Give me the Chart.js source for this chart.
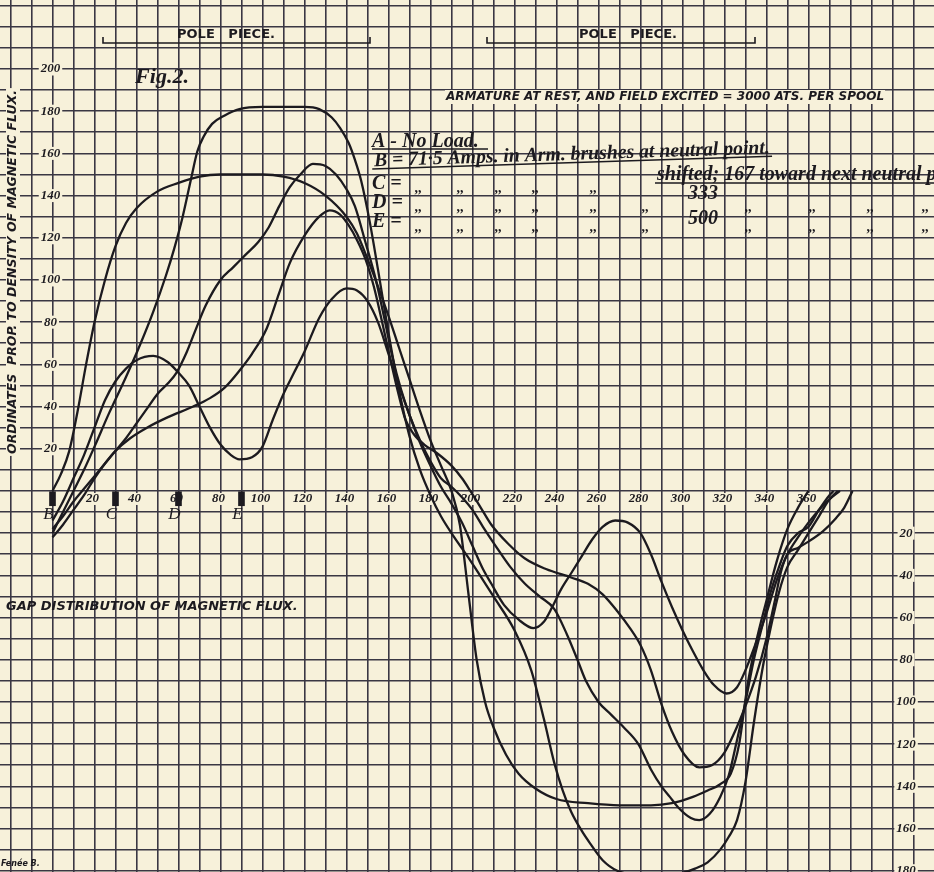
<!DOCTYPE html>
<html>
<head>
<meta charset="utf-8">
<title>Gap distribution of magnetic flux</title>
<script src="https://cdn.jsdelivr.net/npm/chart.js@4.4.1/dist/chart.umd.min.js"></script>
<style>
  html, body { margin: 0; padding: 0; background: #f7f1da; }
  #wrap { position: relative; width: 934px; height: 872px; }
</style>
</head>
<body>
<div id="wrap"><canvas id="chart"></canvas></div>
<script>
// ========================================
// Data (degrees of armature periphery vs. flux density ordinate)
// ========================================

// A - No load
const xA = [0, 4, 8, 12, 16, 20, 25, 30, 35, 40, 50, 60, 70, 80, 90, 100, 110, 120, 130, 140, 145, 150, 155, 160, 165, 170, 175, 180, 185, 190, 194, 198, 202, 206, 210, 216, 222, 230, 240, 255, 270, 285, 295, 305, 312, 318, 323, 327, 331, 335, 340, 345, 350, 355, 360];
const yA = [0, 8, 19, 38, 60, 80, 100, 116, 127, 134, 142, 146, 149, 150, 150, 150, 149, 146, 140, 130, 122, 110, 97, 83, 68, 53, 38, 24, 12, 0, -16, -48, -80, -100, -112, -125, -134, -141, -146, -148, -149, -149, -148, -145, -142, -139, -134, -120, -92, -72, -52, -33, -18, -8, 0];

// B - 71.5 amps, brushes at neutral point
const xB = [0, 5, 10, 15, 20, 27, 35, 42, 48, 54, 58, 62, 66, 69, 72, 76, 82, 89, 100, 110, 120, 127, 133, 137, 141, 144, 147, 151, 155, 160, 165, 170, 175, 180, 185, 190, 199, 210, 220, 228, 234, 239, 243, 247, 252, 256, 262, 269, 280, 290, 300, 306, 312, 318, 322, 326, 330, 334, 338, 342, 346, 350, 355, 360, 365, 370, 374];
const yB = [-20, -10, 0, 10, 21, 37, 54, 70, 85, 102, 115, 130, 148, 161, 168, 174, 178, 181, 182, 182, 182, 181, 177, 172, 165, 157, 147, 128, 105, 75, 48, 26, 10, -2, -12, -20, -33, -50, -66, -85, -108, -129, -142, -152, -161, -167, -175, -180, -182, -182, -181, -179, -176, -170, -164, -156, -138, -110, -85, -65, -48, -36, -28, -20, -12, -4, 0];

// C - brushes shifted .167
const xC = [0, 5, 10, 15, 20, 25, 30, 35, 40, 45, 50, 55, 59, 64, 68, 73, 80, 86, 92, 98, 103, 108, 113, 118, 124, 130, 135, 140, 144, 149, 154, 158, 162, 166, 170, 175, 180, 185, 190, 195, 200, 205, 211, 218, 225, 232, 239, 245, 250, 254, 260, 266, 272, 279, 285, 290, 294, 298, 304, 308, 313, 318, 322, 326, 330, 334, 338, 342, 346, 350, 355, 360, 365, 370, 372];
const yC = [-18, -12, -5, 1, 7, 13, 19, 25, 32, 39, 46, 51, 56, 66, 76, 88, 100, 106, 112, 118, 125, 135, 144, 150, 155, 154, 150, 143, 135, 118, 100, 82, 63, 48, 36, 24, 14, 6, 2, -3, -9, -17, -26, -36, -44, -50, -56, -68, -80, -90, -100, -106, -112, -120, -132, -140, -145, -150, -155, -156, -153, -145, -135, -118, -100, -80, -64, -48, -36, -26, -20, -17, -9, -2, 0];

// D - brushes shifted .333
const xD = [0, 5, 10, 15, 20, 25, 30, 37, 45, 55, 67, 75, 82, 89, 95, 102, 108, 113, 120, 127, 132, 137, 141, 145, 149, 153, 157, 161, 165, 168, 172, 177, 183, 190, 195, 199, 204, 209, 217, 225, 235, 247, 255, 262, 269, 275, 280, 285, 290, 295, 301, 308, 314, 320, 325, 330, 335, 340, 344, 347, 350, 355, 360, 367, 373, 377, 381];
const yD = [-22, -16, -9, -2, 6, 13, 19, 25, 30, 35, 40, 44, 49, 57, 65, 77, 94, 108, 121, 130, 133, 131, 126, 119, 110, 97, 80, 62, 45, 34, 27, 22, 18, 12, 6, 0, -8, -16, -25, -32, -37, -41, -44, -49, -57, -65, -73, -85, -101, -114, -125, -131, -130, -124, -114, -102, -88, -70, -52, -38, -30, -27, -24, -19, -13, -8, 0];

// E - brushes shifted .500
const xE = [0, 5, 10, 15, 20, 25, 30, 35, 40, 48, 55, 60, 65, 70, 75, 80, 85, 89, 95, 100, 105, 110, 115, 120, 127, 133, 140, 145, 150, 155, 160, 165, 170, 175, 180, 185, 190, 195, 200, 205, 209, 215, 222, 229, 234, 238, 242, 247, 252, 257, 262, 268, 274, 280, 285, 290, 295, 300, 305, 310, 315, 321, 326, 330, 335, 340, 345, 350, 355, 360, 365, 370, 375];
const yE = [-14, -5, 6, 17, 30, 43, 52, 58, 62, 64, 61, 56, 50, 40, 30, 22, 17, 15, 16, 21, 34, 46, 56, 66, 82, 91, 96, 95, 90, 80, 65, 50, 36, 23, 12, 2, -6, -15, -26, -37, -44, -54, -61, -65, -62, -55, -47, -39, -31, -23, -17, -14, -15, -20, -30, -43, -55, -66, -76, -85, -92, -96, -93, -85, -72, -58, -42, -30, -22, -15, -9, -4, 0];

// Brush positions marked on the axis
const brushX = [0, 30, 60, 90];
const brushNames = ['B', 'C', 'D', 'E'];

// Tick labels
const xTickLabels = [20, 40, 60, 80, 100, 120, 140, 160, 180, 200, 220, 240, 260, 280, 300, 320, 340, 360];
const yUpLabels = [20, 40, 60, 80, 100, 120, 140, 160, 180, 200];
const yDownLabels = [20, 40, 60, 80, 100, 120, 140, 160, 180];

// ========================================
// Styling
// ========================================
const PAPER = '#f7f1da';
const INK = '#1c1a1f';
const GRID = '#3a3743';
const SCRIPT = '"Liberation Serif", "DejaVu Serif", serif';
const SANS = '"DejaVu Sans", "Liberation Sans", sans-serif';

const toPoints = (xs, ys) => xs.map((x, i) => ({ x: x, y: ys[i] }));

const curve = (label, xs, ys) => ({
    type: 'line',
    label: label,
    data: toPoints(xs, ys),
    borderColor: INK,
    borderWidth: 2.3,
    pointRadius: 0,
    fill: false,
    cubicInterpolationMode: 'monotone'
});

// keep grid lines on multiples of 10 only
const tensOnly = (scale) => {
    const ticks = [];
    for (let v = Math.ceil(scale.min / 10) * 10; v <= scale.max; v += 10) {
        ticks.push({ value: v });
    }
    scale.ticks = ticks;
};

// text with a paper-coloured patch behind it
const boxed = (ctx, text, x, y, pad, h) => {
    const w = ctx.measureText(text).width;
    ctx.fillStyle = PAPER;
    ctx.fillRect(x - w / 2 - pad, y - h / 2, w + pad * 2, h);
    ctx.fillStyle = INK;
    ctx.fillText(text, x, y);
};

// ========================================
// Plugins
// ========================================
const paper = {
    id: 'paper',
    beforeDraw(chart) {
        const { ctx, width, height } = chart;
        ctx.save();
        ctx.fillStyle = PAPER;
        ctx.fillRect(0, 0, width, height);
        ctx.restore();
    }
};

const notes = {
    id: 'notes',
    beforeDatasetsDraw(chart) {
        const { ctx } = chart;
        const sx = chart.scales.x;
        const sy = chart.scales.y;
        const y0 = sy.getPixelForValue(0);

        ctx.save();
        ctx.textAlign = 'center';
        ctx.textBaseline = 'middle';

        // axis numbers
        ctx.font = 'italic bold 13px ' + SCRIPT;
        yUpLabels.forEach(v => boxed(ctx, String(v), sx.getPixelForValue(0) - 2, sy.getPixelForValue(v), 2, 13));
        yDownLabels.forEach(v => boxed(ctx, String(v), sx.getPixelForValue(406.5), sy.getPixelForValue(-v), 2, 13));
        xTickLabels.forEach(v => boxed(ctx, String(v), sx.getPixelForValue(v) - 2, y0 + 8, 2, 12));

        // brush letters
        ctx.font = 'italic 17px ' + SCRIPT;
        ctx.fillStyle = INK;
        brushX.forEach((b, i) => ctx.fillText(brushNames[i], sx.getPixelForValue(b) - 4, y0 + 24));

        // vertical axis title
        ctx.save();
        ctx.translate(13, 272);
        ctx.rotate(-Math.PI / 2);
        ctx.font = 'oblique bold 12.5px ' + SANS;
        boxed(ctx, 'ORDINATES  PROP. TO DENSITY OF MAGNETIC FLUX.', 0, 0, 2, 14);
        ctx.restore();

        // pole pieces
        ctx.strokeStyle = INK;
        ctx.lineWidth = 1.6;
        [[103, 370], [487, 755]].forEach(([a, b]) => {
            ctx.beginPath();
            ctx.moveTo(a, 37);
            ctx.lineTo(a, 43);
            ctx.lineTo(b, 43);
            ctx.lineTo(b, 37);
            ctx.stroke();
        });
        ctx.font = 'bold 13px ' + SANS;
        ctx.fillStyle = INK;
        ctx.fillText('POLE   PIECE.', 226, 35);
        ctx.fillText('POLE   PIECE.', 628, 35);

        ctx.font = 'italic bold 22px ' + SCRIPT;
        ctx.fillText('Fig.2.', 162, 77);

        ctx.font = 'oblique bold 12px ' + SANS;
        boxed(ctx, 'ARMATURE AT REST, AND FIELD EXCITED = 3000 ATS. PER SPOOL', 665, 97, 1, 14);

        ctx.font = 'oblique bold 13px ' + SANS;
        ctx.textAlign = 'left';
        ctx.fillStyle = INK;
        ctx.fillText('GAP DISTRIBUTION OF MAGNETIC FLUX.', 6, 607, 306);

        // key
        ctx.font = 'italic bold 20px ' + SCRIPT;
        ctx.fillText('A - No Load.', 372, 142, 116);
        ctx.beginPath();
        ctx.moveTo(372, 149);
        ctx.lineTo(488, 149);
        ctx.stroke();

        ctx.save();
        ctx.translate(374, 161);
        ctx.rotate(-0.032);
        ctx.fillText('B = 71·5 Amps. in Arm. brushes at neutral point.', 0, 0, 396);
        ctx.beginPath();
        ctx.moveTo(-2, 8);
        ctx.lineTo(398, 8);
        ctx.stroke();
        ctx.restore();

        ctx.fillText('C =', 372, 184);
        ctx.fillText('D =', 372, 203);
        ctx.fillText('E =', 372, 222);
        ctx.fillText('shifted; 167 toward next neutral point.', 657, 175);
        ctx.beginPath();
        ctx.moveTo(655, 183);
        ctx.lineTo(934, 183);
        ctx.stroke();
        ctx.textAlign = 'center';
        ctx.fillText('333', 703, 194);
        ctx.fillText('500', 703, 219);

        ctx.font = 'bold 14px ' + SCRIPT;
        [418, 460, 498, 535, 593].forEach(x => ctx.fillText(',,', x, 188));
        [418, 460, 498, 535, 593, 645, 748, 812, 870, 925].forEach(x => {
            ctx.fillText(',,', x, 207);
            ctx.fillText(',,', x, 227);
        });

        ctx.font = 'oblique bold 8px ' + SANS;
        ctx.textAlign = 'left';
        ctx.fillText('Fenée B.', 1, 864);

        ctx.restore();
    }
};

// ========================================
// Chart
// ========================================
const ctx = document.getElementById('chart').getContext('2d');

new Chart(ctx, {
    type: 'line',
    data: {
        datasets: [
            curve('A', xA, yA),
            curve('B', xB, yB),
            curve('C', xC, yC),
            curve('D', xD, yD),
            curve('E', xE, yE),
            {
                type: 'bar',
                label: 'Brushes',
                data: brushX.map(b => ({ x: b, y: [0, -7] })),
                backgroundColor: INK,
                barThickness: 6
            }
        ]
    },
    options: {
        responsive: true,
        maintainAspectRatio: false,
        animation: false,
        layout: { padding: 0 },
        plugins: {
            legend: { display: false },
            tooltip: { enabled: false }
        },
        scales: {
            x: {
                type: 'linear',
                min: -25,
                max: 419.8,
                offset: false,
                afterBuildTicks: tensOnly,
                ticks: { display: false },
                border: { display: false },
                grid: { color: GRID, lineWidth: 1.6, drawTicks: false, offset: false }
            },
            y: {
                type: 'linear',
                min: -180.6,
                max: 232.7,
                afterBuildTicks: tensOnly,
                ticks: { display: false },
                border: { display: false },
                grid: { color: GRID, lineWidth: 1.6, drawTicks: false }
            }
        }
    },
    plugins: [paper, notes]
});
</script>
</body>
</html>
